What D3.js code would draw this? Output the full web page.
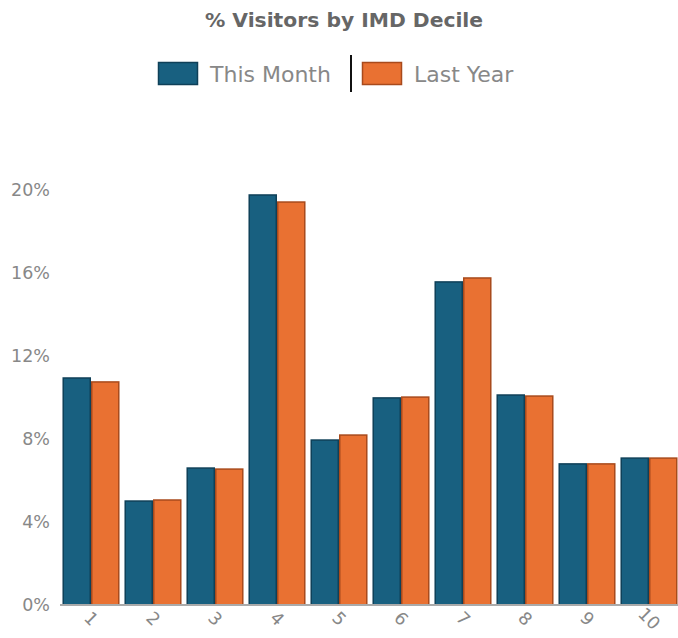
<!DOCTYPE html>
<html>
<head>
<meta charset="utf-8">
<script src="https://cdn.jsdelivr.net/npm/d3@7"></script>
<style>
  body { margin: 0; background: #fff; }
  svg { display: block; }
</style>
</head>
<body>
<svg id="chart" width="678" height="638"></svg>
<script>
// deciles and % of visitors
var deciles = ["1", "2", "3", "4", "5", "6", "7", "8", "9", "10"];
var thisMonth = [10.94, 5.01, 6.60, 19.76, 7.95, 9.98, 15.57, 10.12, 6.80, 7.08];
var lastYear = [10.75, 5.06, 6.55, 19.42, 8.19, 10.02, 15.76, 10.07, 6.80, 7.08];
var yTicks = [0, 4, 8, 12, 16, 20];
var seriesNames = ["This Month", "Last Year"];

var fill = ["#186080", "#e97132"];
var stroke = ["#0f4058", "#a84a1c"];

var svg = d3.select("#chart");
var plotLeft = 60, plotRight = 680, plotTop = 190, plotBottom = 605;

var x = d3.scaleBand().domain(deciles).range([plotLeft, plotRight]).paddingInner(0.08).paddingOuter(0.04);
var xs = d3.scaleBand().domain([0, 1]).range([0, x.bandwidth()]);
var y = d3.scaleLinear().domain([0, 20]).range([plotBottom, plotTop]);

// title
svg.append("text").attr("x", 344).attr("y", 27).attr("text-anchor", "middle")
    .style("font-family", "DejaVu Sans, sans-serif").style("font-weight", "bold")
    .style("font-size", "20.3px").style("fill", "#666").text("% Visitors by IMD Decile");

// legend
var legend = svg.append("g");
var lx = [158, 362];
seriesNames.forEach(function (name, i) {
    legend.append("rect").attr("x", lx[i] + 0.5).attr("y", 62.5).attr("width", 39).attr("height", 22)
        .attr("fill", fill[i]).attr("stroke", stroke[i]).attr("stroke-width", 1.5);
    legend.append("text").attr("x", lx[i] + 52).attr("y", 82)
        .style("font-family", "DejaVu Sans, sans-serif").style("font-size", "22px")
        .style("fill", "#888").text(name);
});
legend.append("line").attr("x1", 351).attr("x2", 351).attr("y1", 55).attr("y2", 92)
    .attr("stroke", "#111").attr("stroke-width", 2);

// y axis labels
var yAxis = svg.append("g").attr("transform", "translate(50,0)")
    .call(d3.axisLeft(y).tickValues(yTicks).tickSize(0).tickPadding(0).tickFormat(function (d) { return d + "%"; }));
yAxis.select(".domain").remove();
yAxis.selectAll("text").style("font-family", "DejaVu Sans, sans-serif").style("font-size", "17.5px").style("fill", "#888");

// bars
var rows = deciles.map(function (d, i) { return { decile: d, vals: [thisMonth[i], lastYear[i]] }; });
var group = svg.selectAll("g.decile").data(rows).enter().append("g").attr("class", "decile")
    .attr("transform", function (d) { return "translate(" + x(d.decile) + ",0)"; });
group.selectAll("rect").data(function (d) { return d.vals; }).enter().append("rect")
    .attr("x", function (d, i) { return xs(i) + 0.75; })
    .attr("y", function (d) { return y(d); })
    .attr("width", xs.bandwidth() - 1.5)
    .attr("height", function (d) { return plotBottom - y(d); })
    .attr("fill", function (d, i) { return fill[i]; })
    .attr("stroke", function (d, i) { return stroke[i]; })
    .attr("stroke-width", 1.5);

// x axis
var xAxis = svg.append("g").attr("transform", "translate(0," + plotBottom + ")")
    .call(d3.axisBottom(x).tickSize(0).tickPadding(0));
xAxis.select(".domain").attr("stroke", "#aaa").attr("stroke-width", 2).attr("d", "M60,0H678");
xAxis.selectAll("text")
    .attr("y", 0).attr("dy", null)
    .attr("transform", "translate(-4,18) rotate(45)")
    .attr("text-anchor", "middle")
    .style("font-family", "DejaVu Sans, sans-serif").style("font-size", "17.5px").style("fill", "#888");
</script>
</body>
</html>
